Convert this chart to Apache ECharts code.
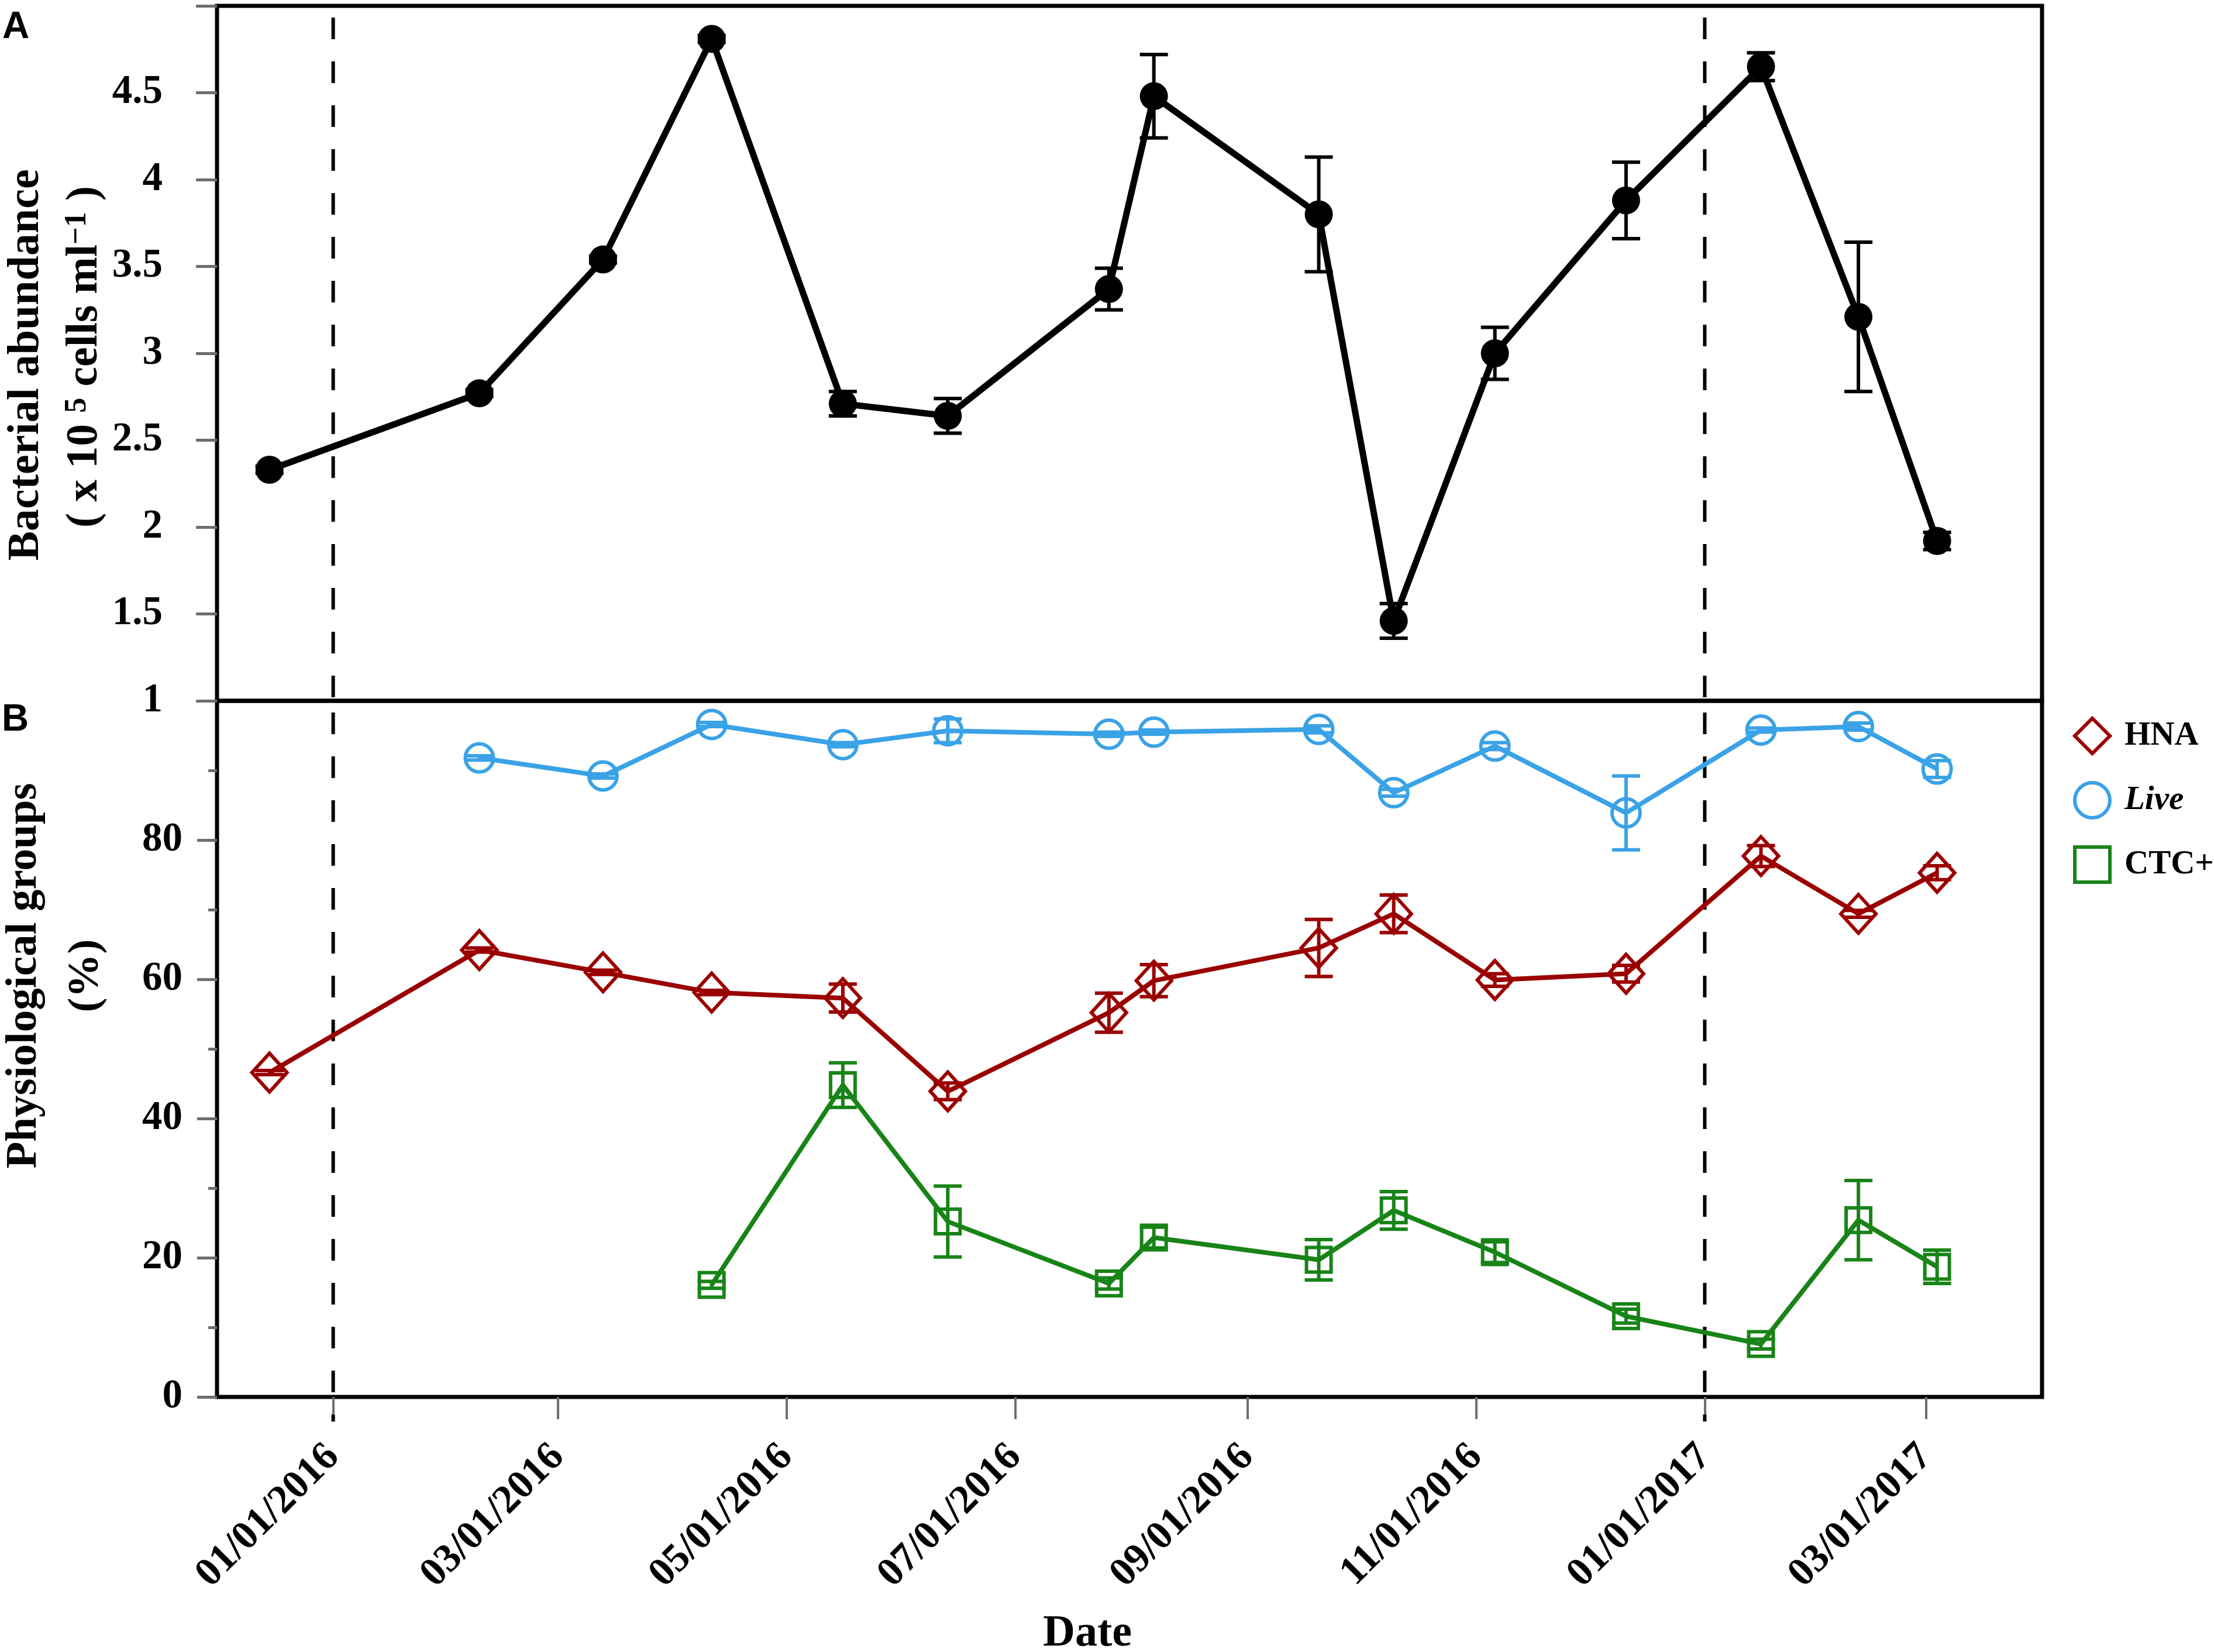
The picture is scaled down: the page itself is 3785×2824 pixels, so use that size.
<!DOCTYPE html>
<html>
<head>
    <meta charset="utf-8">
    <title>Bacterial abundance and physiological groups</title>
    <script src="https://cdn.jsdelivr.net/npm/echarts@6.0.0/dist/echarts.min.js"></script>
    <style>
        html, body { margin: 0; padding: 0; background: #fff; }
        #main { width: 3785px; height: 2824px; }
    </style>
</head>
<body>
    <div id="main"></div>
    <script>
        // axis range and tick dates
        const xMin = '2015-12-01';
        const xMax = '2017-04-01';
        const xTickDates = ['2016-01-01', '2016-03-01', '2016-05-01', '2016-07-01',
            '2016-09-01', '2016-11-01', '2017-01-01', '2017-03-01'];
        const xTickLabels = ['01/01/2016', '03/01/2016', '05/01/2016', '07/01/2016',
            '09/01/2016', '11/01/2016', '01/01/2017', '03/01/2017'];
        const dashedDates = ['2016-01-01', '2017-01-01'];

        // sampling dates
        const sampleDates = ['2015-12-15', '2016-02-09', '2016-03-13', '2016-04-11', '2016-05-16',
            '2016-06-13', '2016-07-26', '2016-08-07', '2016-09-20', '2016-10-10',
            '2016-11-06', '2016-12-11', '2017-01-16', '2017-02-11', '2017-03-04'];

        // panel A: bacterial abundance (x 10^5 cells/ml)
        const abundance    = [2.33, 2.77, 3.54, 4.81, 2.71, 2.64, 3.37, 4.48, 3.80, 1.46, 3.00, 3.88, 4.65, 3.21, 1.92];
        const abundanceErr = [0.02, 0.02, 0.02, 0.02, 0.07, 0.10, 0.12, 0.24, 0.33, 0.10, 0.15, 0.22, 0.08, 0.43, 0.05];

        // panel B: physiological groups (%)
        const hna     = [46.6, 64.2, 61.0, 58.1, 57.3, 43.9, 55.2, 59.8, 64.5, 69.4, 59.9, 60.8, 77.7, 69.4, 75.3];
        const hnaErr  = [0.3, 0.3, 0.3, 0.3, 2.0, 1.2, 2.8, 2.3, 4.1, 2.7, 0.9, 1.2, 1.5, 0.5, 1.0];
        const live    = [null, 91.8, 89.2, 96.6, 93.7, 95.7, 95.2, 95.5, 95.9, 86.8, 93.5, 83.9, 95.8, 96.3, 90.2];
        const liveErr = [null, 0.3, 0.3, 0.3, 0.3, 1.7, 0.3, 0.3, 0.5, 0.5, 0.5, 5.3, 0.3, 0.5, 1.2];
        const ctc     = [null, null, null, 16.1, 44.8, 25.2, 16.3, 22.9, 19.7, 26.8, 20.8, 11.6, 7.6, 25.4, 18.7];
        const ctcErr  = [null, null, null, 0.5, 3.2, 5.1, 0.8, 1.5, 2.9, 2.7, 1.5, 1.0, 0.7, 5.7, 2.4];

        const SERIF = 'Liberation Serif';
        const SANS = 'Liberation Sans';
        const RED = '#9b0000';
        const BLUE = '#3aa2e6';
        const GREEN = '#188418';
        const TICK_GRAY = '#6e6e6e';

        // dates become timestamps on a value axis
        const parseT = s => {
            const p = s.split('-').map(Number);
            return new Date(p[0], p[1] - 1, p[2]).getTime();
        };
        const tickValues = xTickDates.map(parseT);
        const tickLabelMap = {};
        tickValues.forEach((t, i) => { tickLabelMap[t] = xTickLabels[i]; });

        // [time, value] pairs, skipping missing samples
        const pairs = vals => sampleDates.map((d, i) => [parseT(d), vals[i]]).filter(p => p[1] != null);
        // [time, low, high] for the error bars
        const bars = (vals, errs) => sampleDates
            .map((d, i) => [parseT(d), vals[i] == null ? null : vals[i] - errs[i], vals[i] == null ? null : vals[i] + errs[i]])
            .filter(p => p[1] != null);

        const errorBarSeries = (gridIdx, color, data, lw) => ({
            type: 'custom',
            xAxisIndex: gridIdx,
            yAxisIndex: gridIdx,
            z: 5,
            silent: true,
            encode: { x: 0, y: [1, 2] },
            data: data,
            renderItem: function (params, api) {
                const x = api.value(0);
                const top = api.coord([x, api.value(2)]);
                const bot = api.coord([x, api.value(1)]);
                const half = 24;
                const style = { stroke: color, lineWidth: lw, fill: null };
                return {
                    type: 'group',
                    children: [
                        { type: 'line', shape: { x1: top[0], y1: top[1], x2: bot[0], y2: bot[1] }, style: style },
                        { type: 'line', shape: { x1: top[0] - half, y1: top[1], x2: top[0] + half, y2: top[1] }, style: style },
                        { type: 'line', shape: { x1: bot[0] - half, y1: bot[1], x2: bot[0] + half, y2: bot[1] }, style: style }
                    ]
                };
            }
        });

        // vertical dashed lines at the year changes
        const dashedSeries = (gridIdx, yVal, extendBelow) => ({
            type: 'custom',
            xAxisIndex: gridIdx,
            yAxisIndex: gridIdx,
            z: 1,
            silent: true,
            clip: false,
            encode: { x: 0, y: 1 },
            data: dashedDates.map(d => [parseT(d), yVal]),
            renderItem: function (params, api) {
                const px = api.coord([api.value(0), api.value(1)])[0];
                const cs = params.coordSys;
                return {
                    type: 'line',
                    shape: { x1: px, y1: cs.y + 20, x2: px, y2: cs.y + cs.height + extendBelow },
                    style: { stroke: '#000', lineWidth: 6, lineDash: [37, 38] }
                };
            }
        });

        const yLabelStyle = {
            fontFamily: SERIF, fontWeight: 'bold', fontSize: 69, color: '#000'
        };

        const chart = echarts.init(document.getElementById('main'));

        const option = {
            animation: false,
            backgroundColor: '#fff',
            grid: [
                { left: 371, top: 10, width: 3120, height: 1188, show: true, borderColor: '#000', borderWidth: 7, backgroundColor: 'transparent' },
                { left: 371, top: 1198, width: 3120, height: 1190, show: true, borderColor: '#000', borderWidth: 7, backgroundColor: 'transparent' }
            ],
            xAxis: [
                {
                    type: 'value', gridIndex: 0, min: parseT(xMin), max: parseT(xMax), scale: true,
                    axisLine: { show: false }, axisTick: { show: false },
                    axisLabel: { show: false }, splitLine: { show: false }
                },
                {
                    type: 'value', gridIndex: 1, min: parseT(xMin), max: parseT(xMax), scale: true,
                    axisLine: { show: false, onZero: false },
                    splitLine: { show: false },
                    axisTick: {
                        show: true, customValues: tickValues, length: 38,
                        lineStyle: { color: TICK_GRAY, width: 4 }
                    },
                    axisLabel: {
                        customValues: tickValues,
                        rotate: 45,
                        margin: 92,
                        showMinLabel: true, showMaxLabel: true,
                        fontFamily: SERIF, fontWeight: 'bold', fontSize: 69, color: '#000',
                        formatter: v => tickLabelMap[v] || ''
                    }
                }
            ],
            yAxis: [
                {
                    type: 'value', gridIndex: 0, min: 1, max: 5, interval: 0.5,
                    axisLine: { show: false }, splitLine: { show: false },
                    axisTick: { show: true, length: 36, lineStyle: { color: TICK_GRAY, width: 5 } },
                    axisLabel: Object.assign({ margin: 93, formatter: v => (v === 5 ? '' : String(v)) }, yLabelStyle)
                },
                {
                    type: 'value', gridIndex: 1, min: 0, max: 100, interval: 20,
                    axisLine: { show: false }, splitLine: { show: false },
                    axisTick: { show: true, length: 34, lineStyle: { color: TICK_GRAY, width: 5 } },
                    minorTick: { show: true, splitNumber: 2, length: 15, lineStyle: { color: TICK_GRAY, width: 5 } },
                    minorSplitLine: { show: false },
                    axisLabel: Object.assign({ margin: 59, formatter: v => (v === 100 ? '' : String(v)) }, yLabelStyle)
                }
            ],
            legend: {
                orient: 'vertical',
                left: 3539,
                top: 1220,
                itemWidth: 60,
                itemHeight: 60,
                itemGap: 44,
                selectedMode: false,
                textStyle: {
                    fontFamily: SERIF, fontWeight: 'bold', fontSize: 57, color: '#000',
                    padding: [0, 0, 0, 20]
                },
                data: [
                    { name: 'HNA', icon: 'diamond', itemStyle: { color: 'rgba(0,0,0,0)', borderColor: RED, borderWidth: 6 } },
                    { name: 'Live', icon: 'circle', textStyle: { fontStyle: 'italic' },
                      itemStyle: { color: 'rgba(0,0,0,0)', borderColor: BLUE, borderWidth: 6 } },
                    { name: 'CTC+', icon: 'rect', itemStyle: { color: 'rgba(0,0,0,0)', borderColor: GREEN, borderWidth: 6 } }
                ]
            },
            graphic: [
                { type: 'text', x: 27, y: 47, silent: true,
                  style: { text: 'A', fontFamily: SANS, fontWeight: 'bold', fontSize: 64, fill: '#000', align: 'center', verticalAlign: 'middle' } },
                { type: 'text', x: 26, y: 1231, silent: true,
                  style: { text: 'B', fontFamily: SANS, fontWeight: 'bold', fontSize: 64, fill: '#000', align: 'center', verticalAlign: 'middle' } },
                { type: 'text', x: 45, y: 624, rotation: Math.PI / 2, silent: true,
                  style: { text: 'Bacterial abundance', fontFamily: SERIF, fontWeight: 'bold', fontSize: 76, fill: '#000', align: 'center', verticalAlign: 'middle' } },
                { type: 'text', x: 145, y: 610, rotation: Math.PI / 2, silent: true,
                  style: {
                      text: '( x 10 {s|5} cells ml{s|\u22121} )',
                      fontFamily: SERIF, fontWeight: 'bold', fontSize: 76, fill: '#000',
                      align: 'center', verticalAlign: 'middle',
                      rich: { s: { fontFamily: SERIF, fontWeight: 'bold', fontSize: 52, fill: '#000', verticalAlign: 'top' } }
                  } },
                { type: 'text', x: 42, y: 1668, rotation: Math.PI / 2, silent: true,
                  style: { text: 'Physiological groups', fontFamily: SERIF, fontWeight: 'bold', fontSize: 75, fill: '#000', align: 'center', verticalAlign: 'middle' } },
                { type: 'text', x: 148, y: 1668, rotation: Math.PI / 2, silent: true,
                  style: { text: '(%)', fontFamily: SERIF, fontWeight: 'bold', fontSize: 75, fill: '#000', align: 'center', verticalAlign: 'middle' } },
                { type: 'text', x: 1859, y: 2793, silent: true,
                  style: { text: 'Date', fontFamily: SERIF, fontWeight: 'bold', fontSize: 76, fill: '#000', align: 'center', verticalAlign: 'middle' } }
            ],
            series: [
                dashedSeries(0, 1, 0),
                dashedSeries(1, 0, 42),
                {
                    name: 'Abundance', type: 'line', xAxisIndex: 0, yAxisIndex: 0,
                    data: pairs(abundance), z: 3,
                    symbol: 'circle', symbolSize: 48,
                    lineStyle: { color: '#000', width: 11 },
                    itemStyle: { color: '#000' }
                },
                errorBarSeries(0, '#000', bars(abundance, abundanceErr), 6),
                {
                    name: 'HNA', type: 'line', xAxisIndex: 1, yAxisIndex: 1,
                    data: pairs(hna), z: 3,
                    symbol: 'diamond', symbolSize: [60, 66],
                    lineStyle: { color: RED, width: 8 },
                    itemStyle: { color: 'rgba(0,0,0,0)', borderColor: RED, borderWidth: 6 }
                },
                errorBarSeries(1, RED, bars(hna, hnaErr), 6),
                {
                    name: 'Live', type: 'line', xAxisIndex: 1, yAxisIndex: 1,
                    data: pairs(live), z: 3,
                    symbol: 'circle', symbolSize: 48,
                    lineStyle: { color: BLUE, width: 8 },
                    itemStyle: { color: 'rgba(0,0,0,0)', borderColor: BLUE, borderWidth: 6 }
                },
                errorBarSeries(1, BLUE, bars(live, liveErr), 6),
                {
                    name: 'CTC+', type: 'line', xAxisIndex: 1, yAxisIndex: 1,
                    data: pairs(ctc), z: 3,
                    symbol: 'rect', symbolSize: 42,
                    lineStyle: { color: GREEN, width: 8 },
                    itemStyle: { color: 'rgba(0,0,0,0)', borderColor: GREEN, borderWidth: 6 }
                },
                errorBarSeries(1, GREEN, bars(ctc, ctcErr), 6)
            ]
        };

        chart.setOption(option);
    </script>
</body>
</html>
